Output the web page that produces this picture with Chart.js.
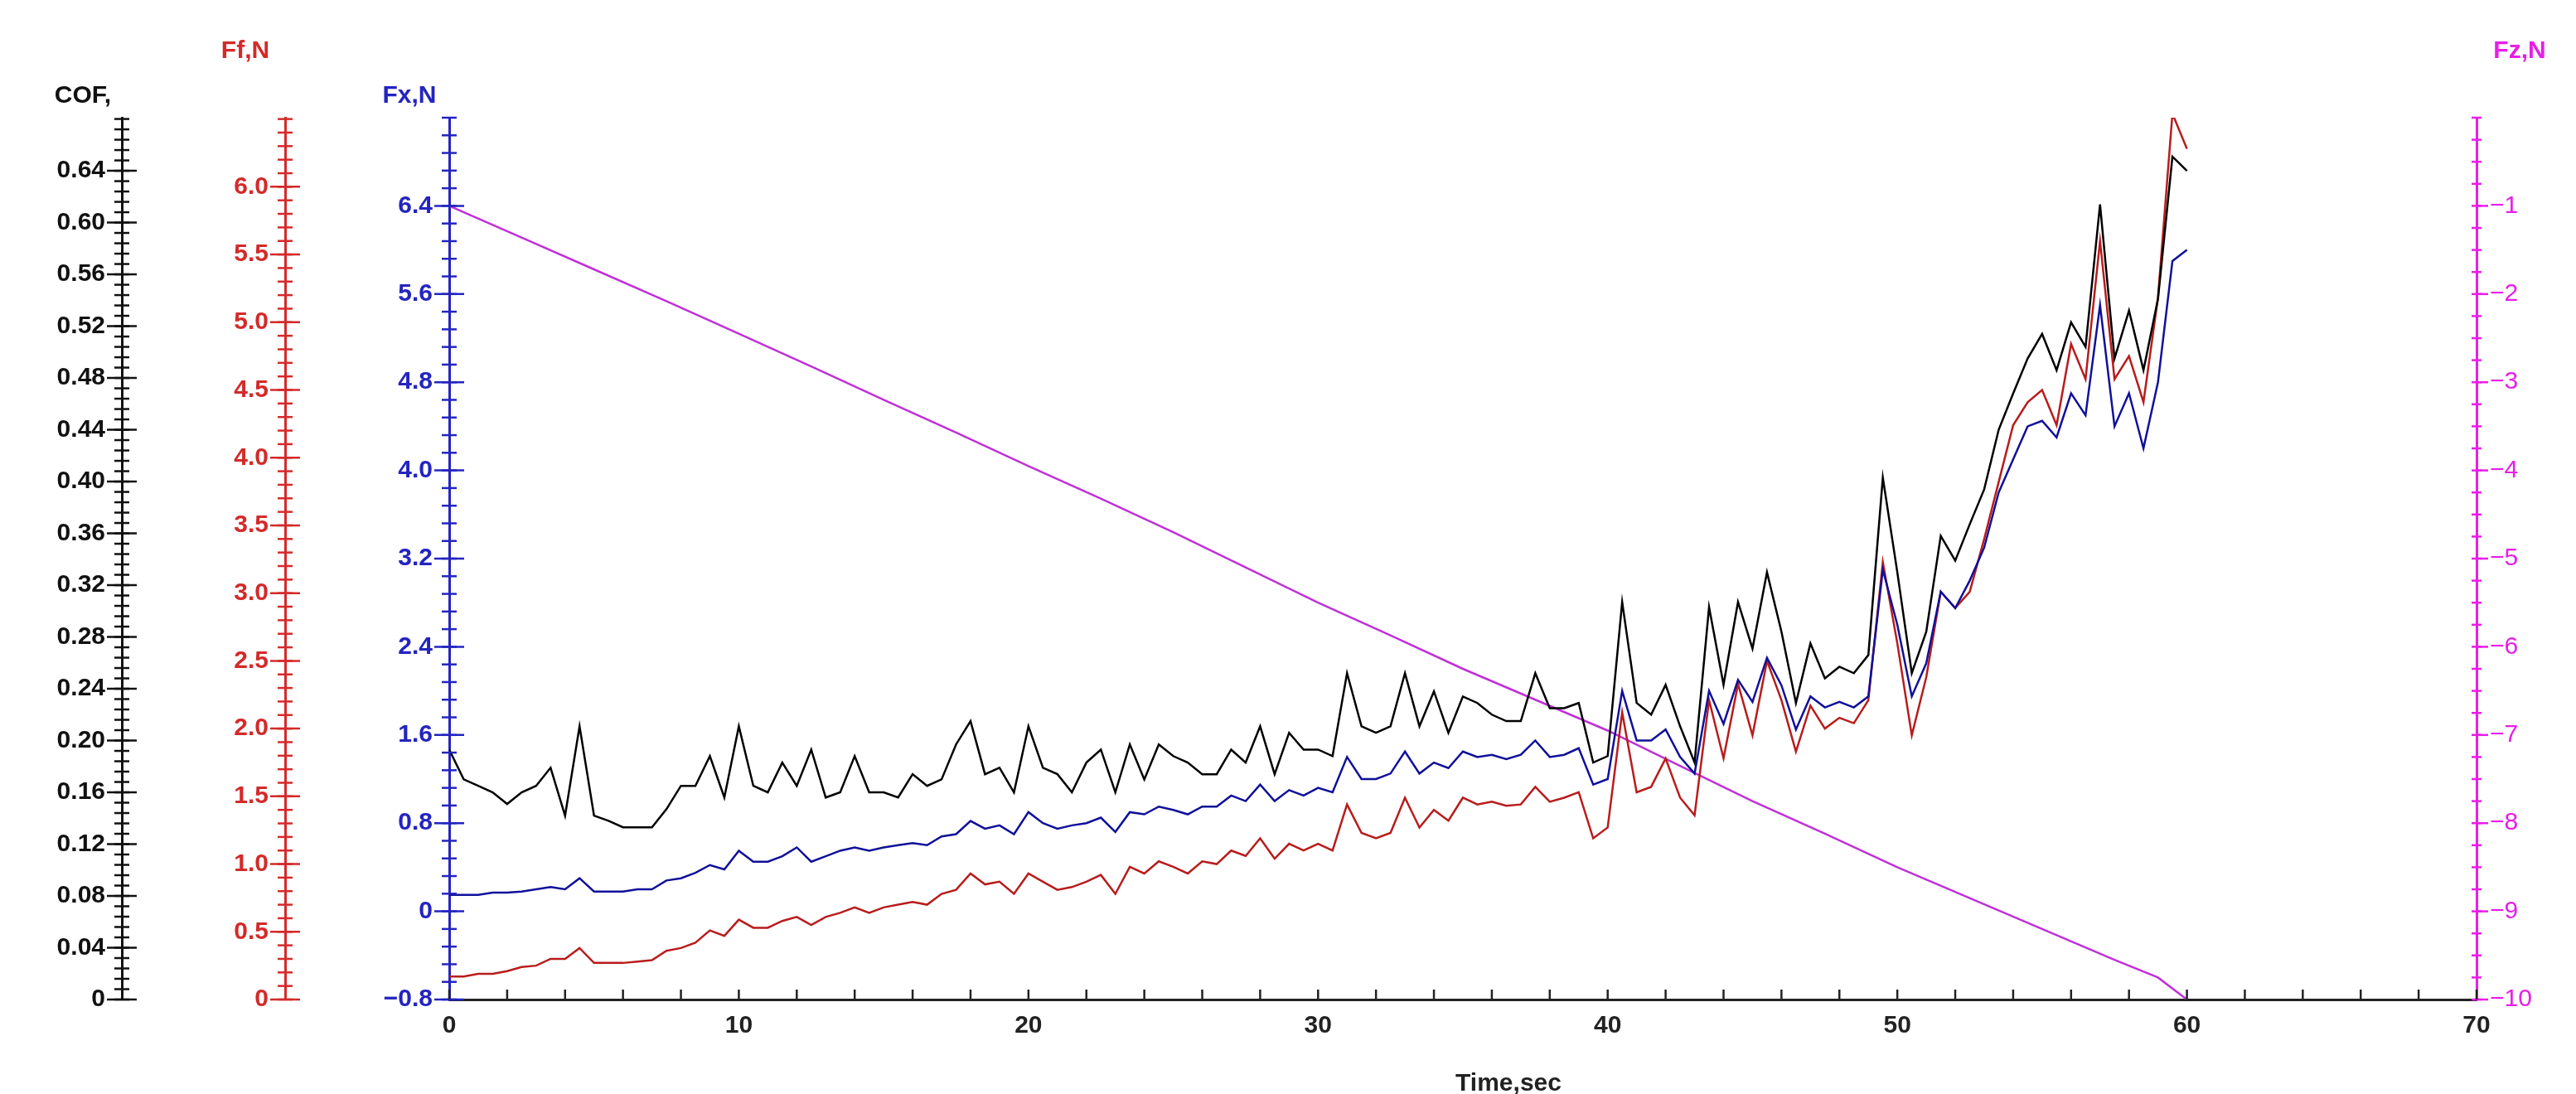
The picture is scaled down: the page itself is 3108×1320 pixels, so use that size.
<!DOCTYPE html>
<html><head><meta charset="utf-8">
<script src="https://cdn.jsdelivr.net/npm/chart.js@4/dist/chart.umd.min.js"></script>
<style>html,body{margin:0;padding:0;background:#fff}#w{width:3108px;height:1320px;position:relative}</style>
</head><body><div id="w"><canvas id="c"></canvas></div>
<script>
// time axis (s) for the force / COF traces, 0.5 s sampling
const timeStep = 0.5;
const cofValues = [0.193,0.170,0.165,0.160,0.151,0.160,0.165,0.179,0.142,0.211,
0.142,0.138,0.133,0.133,0.133,0.147,0.165,0.165,0.188,0.156,
0.211,0.165,0.160,0.183,0.165,0.193,0.156,0.160,0.188,0.160,
0.160,0.156,0.174,0.165,0.170,0.197,0.215,0.174,0.179,0.160,
0.211,0.179,0.174,0.160,0.183,0.193,0.160,0.197,0.170,0.197,
0.188,0.183,0.174,0.174,0.193,0.183,0.211,0.174,0.206,0.193,
0.193,0.188,0.252,0.211,0.206,0.211,0.252,0.211,0.238,0.206,
0.234,0.229,0.220,0.215,0.215,0.252,0.225,0.225,0.229,0.183,
0.188,0.307,0.229,0.220,0.243,0.211,0.183,0.303,0.243,0.307,
0.271,0.330,0.284,0.229,0.275,0.248,0.257,0.252,0.266,0.403,
0.330,0.252,0.284,0.358,0.339,0.367,0.394,0.440,0.468,0.495,
0.514,0.486,0.523,0.504,0.614,0.495,0.532,0.486,0.541,0.651,0.640];
const ffValues = [0.17,0.17,0.19,0.19,0.21,0.24,0.25,0.30,0.30,0.38,
0.27,0.27,0.27,0.28,0.29,0.36,0.38,0.42,0.51,0.47,
0.59,0.53,0.53,0.58,0.61,0.55,0.61,0.64,0.68,0.64,
0.68,0.70,0.72,0.70,0.78,0.81,0.93,0.85,0.87,0.78,
0.93,0.87,0.81,0.83,0.87,0.92,0.78,0.98,0.93,1.02,
0.98,0.93,1.02,1.00,1.10,1.06,1.19,1.04,1.15,1.10,
1.15,1.10,1.44,1.23,1.19,1.23,1.49,1.27,1.40,1.32,
1.49,1.44,1.46,1.43,1.44,1.57,1.46,1.49,1.53,1.19,
1.27,2.12,1.53,1.57,1.78,1.49,1.36,2.21,1.78,2.33,
1.95,2.50,2.21,1.83,2.17,2.00,2.08,2.04,2.21,3.23,
2.63,1.95,2.38,3.01,2.89,3.01,3.40,3.82,4.24,4.41,
4.50,4.24,4.84,4.58,5.60,4.58,4.75,4.41,5.18,6.54,6.28];
const fxValues = [0.15,0.15,0.15,0.17,0.17,0.18,0.2,0.22,0.2,0.3,
0.18,0.18,0.18,0.2,0.2,0.28,0.3,0.35,0.42,0.38,
0.55,0.45,0.45,0.5,0.58,0.45,0.5,0.55,0.58,0.55,
0.58,0.6,0.62,0.6,0.68,0.7,0.82,0.75,0.78,0.7,
0.9,0.8,0.75,0.78,0.8,0.85,0.72,0.9,0.88,0.95,
0.92,0.88,0.95,0.95,1.05,1.0,1.15,1.0,1.1,1.05,
1.12,1.08,1.4,1.2,1.2,1.25,1.45,1.25,1.35,1.3,
1.45,1.4,1.42,1.38,1.42,1.55,1.4,1.42,1.48,1.15,
1.2,2.0,1.55,1.55,1.65,1.4,1.25,2.0,1.7,2.1,
1.9,2.3,2.05,1.65,1.95,1.85,1.9,1.85,1.95,3.1,
2.6,1.95,2.25,2.9,2.75,3.0,3.3,3.8,4.1,4.4,
4.45,4.3,4.7,4.5,5.5,4.4,4.7,4.2,4.8,5.9,6.0];
// normal load trace, 2.5 s sampling
const fzTimes = [0,2.5,5,7.5,10,12.5,15,17.5,20,22.5,25,27.5,30,32.5,35,37.5,40,42.5,45,47.5,50,52.5,55,57.5,59,60];
const fzValues = [-1.0,-1.36,-1.72,-2.08,-2.45,-2.82,-3.2,-3.57,-3.95,-4.32,-4.7,-5.1,-5.5,-5.87,-6.25,-6.6,-6.95,-7.35,-7.75,-8.12,-8.5,-8.85,-9.2,-9.55,-9.75,-10.0];
const xTicks = [0,10,20,30,40,50,60,70];

const pts = arr => arr.map((v,i)=>({x:i*timeStep,y:v}));
const FONT = 'Liberation Sans, Arial, sans-serif';
const C_COF='#111111', C_FF='#d42a2a', C_FX='#2424c0', C_FZ='#e81ee8';

const axisDefs = {
  yCOF:{min:0,max:0.681,step:0.04,labMax:0.65,minor:0.008,col:C_COF,w:147,weight:2,dec:2},
  yFf:{min:0,max:6.51,step:0.5,labMax:6.01,minor:0.1,col:C_FF,w:197,weight:1,dec:1},
  yFx:{min:-0.8,max:7.2,step:0.8,labMax:6.5,minor:0.16,col:C_FX,w:198,weight:0,dec:1}
};
const scales = {
  x:{type:'linear',min:0,max:70,position:'bottom',
     afterBuildTicks:s=>{s.ticks=xTicks.map(v=>({value:v}));},
     afterFit:s=>{s.height=60;},
     grid:{display:false,drawTicks:false},border:{color:'#222',width:3},
     ticks:{color:'#222',font:{family:FONT,size:30,weight:'bold'},padding:14}}
};
for (const [id,d] of Object.entries(axisDefs)) {
  scales[id]={type:'linear',position:'left',min:d.min,max:d.max,weight:d.weight,
    afterBuildTicks:s=>{const t=[];for(let k=0;;k++){const v=+(d.min+k*d.step).toFixed(4);if(v>d.labMax)break;t.push({value:v});}s.ticks=t;},
    afterFit:s=>{s.width=d.w;},
    grid:{display:false,drawTicks:false},border:{color:d.col,width:3},
    ticks:{color:d.col,padding:20,font:{family:FONT,size:30,weight:'bold'},
      callback:v=>Math.abs(v)<1e-9?'0':(v<0?'\u2212':'')+Math.abs(v).toFixed(d.dec)}};
}
scales.yFz={type:'linear',position:'right',min:-10,max:0,
  afterBuildTicks:s=>{const t=[];for(let v=-10;v<=-1;v++)t.push({value:v});s.ticks=t;},
  afterFit:s=>{s.width=120;},
  grid:{display:false,drawTicks:false},border:{color:C_FZ,width:3},
  ticks:{color:C_FZ,padding:16,font:{family:FONT,size:30},callback:v=>'\u2212'+Math.abs(v)}};

const deco = {
  id:'deco',
  afterDraw(ch){
    const ctx=ch.ctx; ctx.save();
    const tick=(x1,y1,x2,y2,col)=>{ctx.strokeStyle=col;ctx.lineWidth=2.5;ctx.beginPath();ctx.moveTo(x1,y1);ctx.lineTo(x2,y2);ctx.stroke();};
    for (const [id,d] of Object.entries(axisDefs)) {
      const s=ch.scales[id], ax=s.right;
      const n=Math.round((d.max-d.min)/d.minor);
      for(let k=0;k<=n;k++){const v=d.min+k*d.minor;const y=s.getPixelForValue(v);tick(ax-9,y,ax+9,y,d.col);}
      for(const t of s.ticks){const y=s.getPixelForValue(t.value);tick(ax-18,y,ax+18,y,d.col);}
    }
    const fz=ch.scales.yFz, fl=fz.left;
    for(let v=-10;v<=0;v+=0.25){const y=fz.getPixelForValue(v);tick(fl-6,y,fl+6,y,C_FZ);}
    for(let v=-10;v<=-1;v++){const y=fz.getPixelForValue(v);tick(fl,y,fl+14,y,C_FZ);}
    const xs=ch.scales.x, yb=xs.top;
    for(let v=0;v<=70;v+=2){const x=xs.getPixelForValue(v);tick(x,yb,x,yb-12,'#222');}
    ctx.font='bold 30px '+FONT; ctx.textAlign='center'; ctx.textBaseline='alphabetic';
    ctx.fillStyle=C_COF; ctx.fillText('COF,',100,124);
    ctx.fillStyle=C_FF; ctx.fillText('Ff,N',296,70);
    ctx.fillStyle=C_FX; ctx.fillText('Fx,N',494,124);
    ctx.fillStyle=C_FZ; ctx.fillText('Fz,N',3040,70);
    ctx.fillStyle='#222'; ctx.fillText('Time,sec',1820,1316);
    ctx.restore();
  }
};

new Chart(document.getElementById('c'),{
  type:'line',
  data:{datasets:[
    {label:'COF',data:pts(cofValues),yAxisID:'yCOF',borderColor:'#000',order:0},
    {label:'Fx',data:pts(fxValues),yAxisID:'yFx',borderColor:'#10109a',order:1},
    {label:'Ff',data:pts(ffValues),yAxisID:'yFf',borderColor:'#b81c1c',order:2},
    {label:'Fz',data:fzTimes.map((t,i)=>({x:t,y:fzValues[i]})),yAxisID:'yFz',borderColor:'#c030d8',order:3}
  ].map(d=>Object.assign(d,{borderWidth:2.5,pointRadius:0,tension:0,fill:false}))},
  options:{responsive:true,maintainAspectRatio:false,animation:false,
    layout:{padding:{top:142,bottom:54,left:0,right:0}},
    plugins:{legend:{display:false},tooltip:{enabled:false}},
    scales},
  plugins:[deco]
});
</script></body></html>
